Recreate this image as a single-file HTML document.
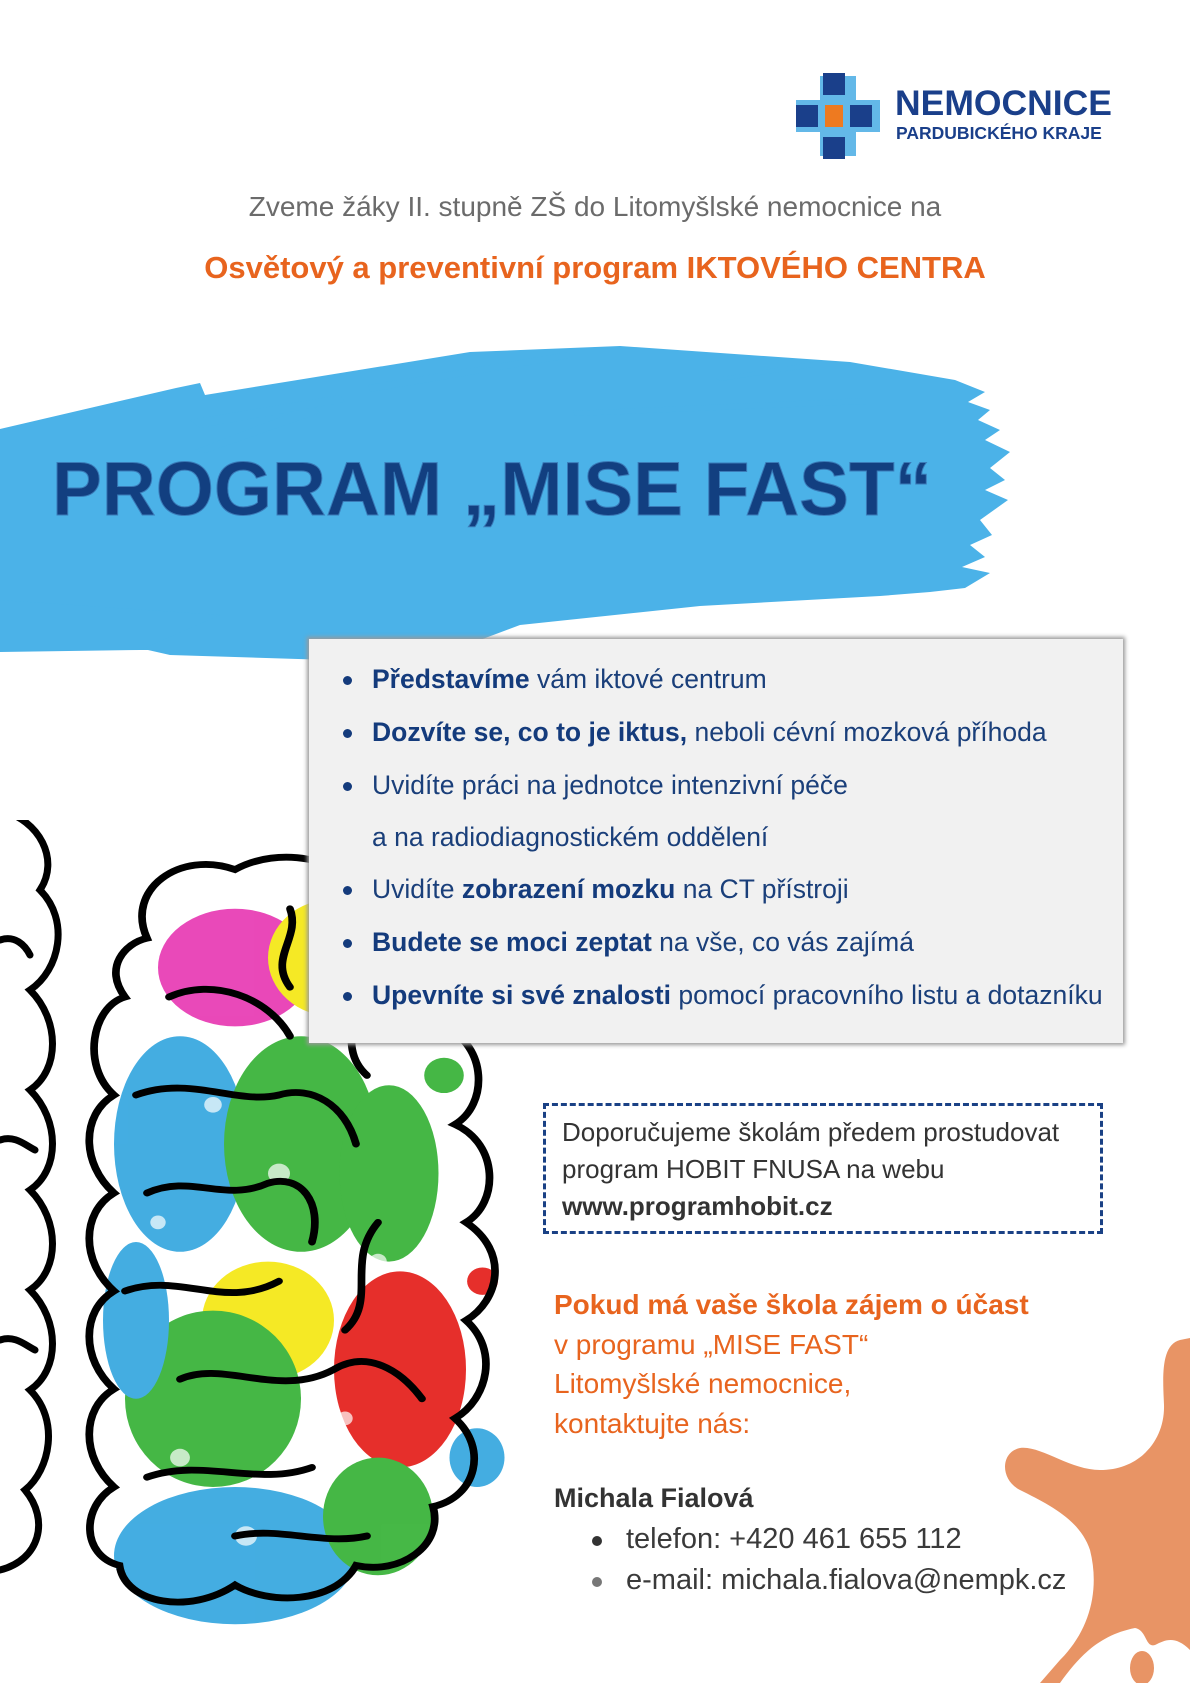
<!DOCTYPE html>
<html><head><meta charset="utf-8"><style>
html,body{margin:0;padding:0;background:#fff;}
body{width:1190px;height:1683px;position:relative;overflow:hidden;font-family:"Liberation Sans","DejaVu Sans",sans-serif;}
.abs{position:absolute;}
.box{left:309px;top:639px;width:814px;height:404px;background:#f1f1f1;box-shadow:0 0 4px 2px #999;}
.box ul{margin:0;padding:0;list-style:none;}
.box li{position:absolute;left:63px;font-size:26.5px;color:#1a3f7a;white-space:nowrap;}
.box li b{color:#143b7c;}
.box li .dot{position:absolute;left:-29px;top:12px;width:9px;height:9px;border-radius:50%;background:#143b7c;}
.dash{left:543px;top:1103px;width:560px;height:131px;border:3px dashed #1a4185;box-sizing:border-box;}
.dash div{position:absolute;left:16px;font-size:26px;color:#333;white-space:nowrap;}
.or{left:554px;font-size:28px;color:#e8641e;white-space:nowrap;}
.ct{font-size:29px;color:#3a3a3a;white-space:nowrap;}
</style></head><body>

<!-- logo -->
<svg class="abs" style="left:790px;top:70px" width="100" height="92">
<rect x="6" y="30" width="84" height="32" fill="#63b8e8"/>
<rect x="30" y="6" width="36" height="80" fill="#63b8e8"/>
<rect x="33" y="3" width="22" height="22" fill="#1a3f8a"/>
<rect x="33" y="67" width="22" height="22" fill="#1a3f8a"/>
<rect x="6" y="35" width="22" height="22" fill="#1a3f8a"/>
<rect x="60" y="35" width="22" height="22" fill="#1a3f8a"/>
<rect x="35" y="35" width="18" height="22" fill="#ee7a20"/>
</svg>
<div class="abs" style="left:895px;top:83px;font-size:35.5px;font-weight:bold;color:#1a3f8a;">NEMOCNICE</div>
<div class="abs" style="left:896px;top:123px;font-size:17.5px;font-weight:bold;color:#1a3f8a;">PARDUBICKÉHO KRAJE</div>

<div class="abs" style="left:0;width:1190px;text-align:center;top:191px;font-size:28px;color:#6b6b6b;">Zveme žáky II. stupně ZŠ do Litomyšlské nemocnice na</div>
<div class="abs" style="left:0;width:1190px;text-align:center;top:250px;font-size:31px;font-weight:bold;color:#e8641e;">Osvětový a preventivní program IKTOVÉHO CENTRA</div>

<!-- brush -->
<svg class="abs" style="left:0;top:0" width="1190" height="700">
<g fill="#4bb2e8">
<path d="M0,429 L176,388 L200,383 L205,395 L470,352 L620,346 L850,362 L955,380 L985,392 L968,402 L990,410 L978,420 L1000,430 L985,440 L1010,452 L990,468 L1005,480 L985,490 L1008,500 L980,520 L992,535 L970,545 L985,557 L962,567 L990,573 L965,588 L930,592 L880,596 L700,606 L520,625 L480,640 L330,660 L170,655 L148,650 L0,650 Z"/>
<path d="M195,450 L312,405 L320,413 L205,453 Z"/>
<path d="M368,385 L569,352 L570,358 L370,392 Z"/>
<path d="M573,411 L865,398 L866,404 L575,416 Z"/>
<path d="M716,378 L813,362 L813,367 L720,381 Z"/>
<path d="M190,420 L340,395 L345,402 L200,428 Z"/>
</g>
<path d="M0,600 L220,615 L140,650 L0,652 Z" fill="#4bb2e8"/>
<text x="52" y="515" font-family="Liberation Sans, sans-serif" font-weight="bold" font-size="76" fill="#123f80" textLength="880" lengthAdjust="spacingAndGlyphs" stroke="#3a7bb8" stroke-width="1">PROGRAM „MISE FAST“</text>
</svg>

<!-- brain -->
<svg class="abs" style="left:0;top:820px" width="560" height="863">
<g transform="translate(15,30) scale(1.1,0.98)">
<g opacity="0.95">
<ellipse cx="200" cy="120" rx="70" ry="60" fill="#e83fb5"/>
<ellipse cx="290" cy="110" rx="60" ry="60" fill="#f5e81a"/>
<ellipse cx="150" cy="300" rx="60" ry="110" fill="#3aa9e0"/>
<ellipse cx="260" cy="300" rx="70" ry="110" fill="#3cb43c"/>
<ellipse cx="340" cy="330" rx="45" ry="90" fill="#3cb43c"/>
<ellipse cx="230" cy="480" rx="60" ry="60" fill="#f5e81a"/>
<ellipse cx="180" cy="560" rx="80" ry="90" fill="#3cb43c"/>
<ellipse cx="350" cy="530" rx="60" ry="100" fill="#e52420"/>
<ellipse cx="200" cy="720" rx="110" ry="70" fill="#3aa9e0"/>
<ellipse cx="330" cy="680" rx="50" ry="60" fill="#3cb43c"/>
<ellipse cx="420" cy="620" rx="25" ry="30" fill="#3aa9e0"/>
<circle cx="425" cy="440" r="14" fill="#e52420"/>
<circle cx="390" cy="230" r="18" fill="#3cb43c"/>
<ellipse cx="110" cy="480" rx="30" ry="80" fill="#3aa9e0"/>
</g>
<g fill="#fff" opacity="0.7">
<circle cx="180" cy="260" r="8"/><circle cx="240" cy="330" r="10"/><circle cx="150" cy="620" r="9"/><circle cx="300" cy="580" r="7"/><circle cx="210" cy="700" r="10"/><circle cx="130" cy="380" r="7"/><circle cx="330" cy="420" r="8"/><circle cx="270" cy="180" r="9"/>
</g>
<g fill="none" stroke="#000" stroke-width="7" stroke-linecap="round">
<path d="M120,90 C100,40 150,0 200,20 C240,-5 300,10 310,40 C350,20 400,50 380,90 C420,110 410,160 390,180 C430,200 430,260 400,280 C440,300 440,360 410,380 C450,410 440,460 410,480 C440,510 430,560 400,580 C430,610 420,660 380,670 C390,710 350,740 310,730 C290,770 230,770 200,750 C160,780 100,770 95,730 C60,720 60,670 90,650 C60,620 60,570 90,550 C60,520 60,470 90,450 C60,420 60,370 90,350 C60,320 60,270 90,250 C60,220 70,160 100,150 C80,120 100,95 120,90 Z"/>
<path d="M140,150 C180,130 230,150 250,190"/>
<path d="M110,250 C160,230 200,260 240,250 C270,240 300,260 310,300"/>
<path d="M120,350 C160,330 190,360 230,340 C260,330 280,360 270,400"/>
<path d="M100,450 C150,430 190,470 240,440"/>
<path d="M150,540 C190,520 240,560 290,530 C320,510 350,530 370,560"/>
<path d="M120,640 C170,620 220,650 270,630"/>
<path d="M200,700 C240,690 280,710 320,700"/>
<path d="M300,120 C320,160 290,200 320,230"/>
<path d="M330,380 C300,420 330,460 300,490"/>
<path d="M250,60 C260,90 230,110 250,140"/>
</g>
</g>
<g fill="none" stroke="#000" stroke-width="7" stroke-linecap="round">
<path d="M0,-10 C40,0 60,40 40,70 C70,100 60,150 30,170 C60,200 60,250 30,270 C60,300 60,350 30,370 C60,400 60,450 30,470 C60,500 60,550 30,570 C60,600 50,650 25,670 C50,700 40,740 0,750"/>
<path d="M0,120 C15,115 25,125 30,135"/><path d="M0,320 C15,315 25,325 35,330"/><path d="M0,520 C15,515 25,525 35,530"/>
</g>
</svg>

<!-- gray box -->
<div class="abs box"><ul>
<li style="top:25px"><span class="dot"></span><b>Představíme</b> vám iktové centrum</li>
<li style="top:78px"><span class="dot"></span><b>Dozvíte se, co to je iktus,</b> neboli cévní mozková příhoda</li>
<li style="top:131px"><span class="dot"></span>Uvidíte práci na jednotce intenzivní péče</li>
<li style="top:183px">a na radiodiagnostickém oddělení</li>
<li style="top:235px"><span class="dot"></span>Uvidíte <b>zobrazení mozku</b> na CT přístroji</li>
<li style="top:288px"><span class="dot"></span><b>Budete se moci zeptat</b> na vše, co vás zajímá</li>
<li style="top:341px"><span class="dot"></span><b>Upevníte si své znalosti</b> pomocí pracovního listu a dotazníku</li>
</ul></div>

<!-- dashed box -->
<div class="abs dash">
<div style="top:11px">Doporučujeme školám předem prostudovat</div>
<div style="top:48px">program HOBIT FNUSA na webu</div>
<div style="top:85px;font-weight:bold">www.programhobit.cz</div>
</div>

<!-- splash -->
<svg class="abs" style="left:0;top:0" width="1190" height="1683">
<path fill="#e89465" d="M1190,1338 L1180,1340 C1160,1345 1163,1380 1164,1405 C1165,1440 1140,1470 1100,1470 C1070,1470 1040,1445 1020,1448 C1000,1452 1000,1480 1020,1490 C1050,1505 1080,1520 1090,1550 C1100,1590 1090,1630 1060,1660 L1040,1683 L1190,1683 Z"/>
<path fill="#fff" d="M1060,1683 C1080,1655 1100,1635 1135,1628 C1147,1630 1145,1648 1155,1645 C1165,1640 1175,1635 1190,1650 L1190,1683 Z"/>
<ellipse cx="1142" cy="1668" rx="12" ry="17" fill="#e89465"/>
</svg>

<div class="abs or" style="top:1289px;font-weight:bold">Pokud má vaše škola zájem o účast</div>
<div class="abs or" style="top:1329px">v programu „MISE FAST“</div>
<div class="abs or" style="top:1368px">Litomyšlské nemocnice,</div>
<div class="abs or" style="top:1408px">kontaktujte nás:</div>
<div class="abs" style="left:554px;top:1483px;font-size:27px;font-weight:bold;color:#333">Michala Fialová</div>
<div class="abs" style="left:592px;top:1536px;width:10px;height:10px;border-radius:50%;background:#333"></div>
<div class="abs ct" style="left:626px;top:1523px">telefon: +420 461 655 112</div>
<div class="abs" style="left:592px;top:1577px;width:10px;height:10px;border-radius:50%;background:#777"></div>
<div class="abs ct" style="left:626px;top:1564px">e-mail: michala.fialova@nempk.cz</div>
</body></html>
